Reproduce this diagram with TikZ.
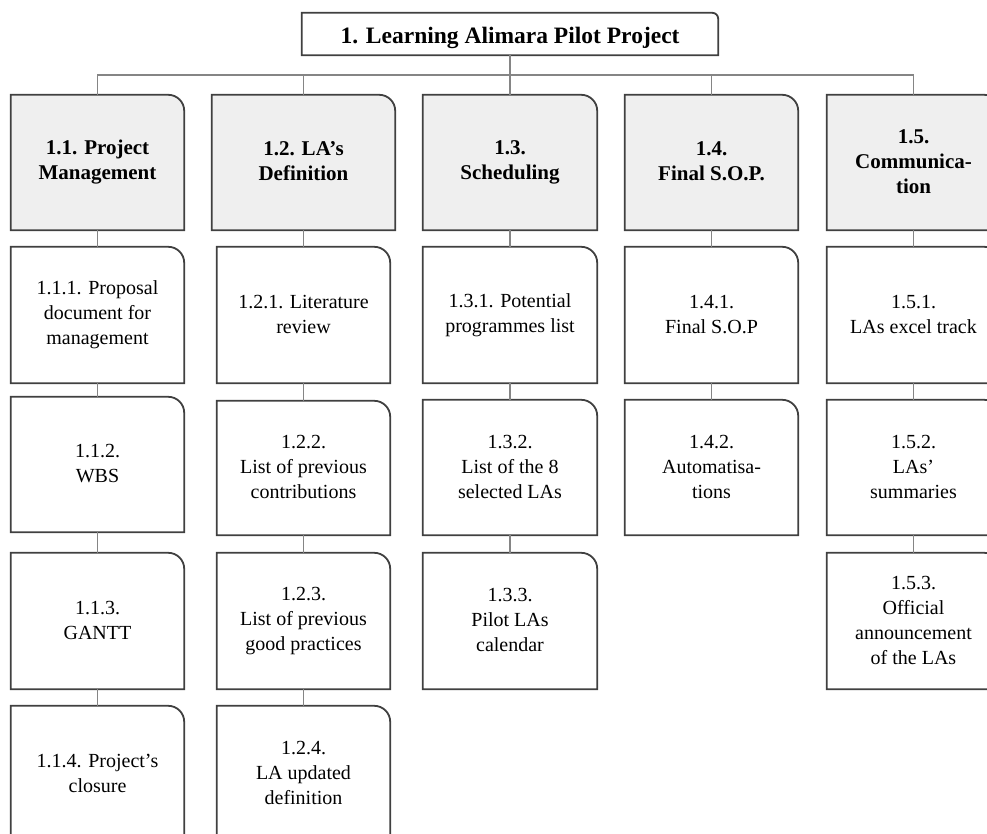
\documentclass[tikz,border=0pt]{standalone}
\usepackage{fontspec}
\setmainfont{Liberation Serif}
\usetikzlibrary{positioning,backgrounds}
\definecolor{edge}{HTML}{404040}
\definecolor{linkgray}{HTML}{858585}
\definecolor{headfill}{HTML}{EFEFEF}
\newcommand{\linestrut}{\rule[-2pt]{0pt}{27pt}}

\begin{document}
\begin{tikzpicture}[x=1pt,y=1pt,
  trbox/.style 2 args={inner sep=0pt,align=center,
    execute at begin node=\linestrut,execute at end node=\linestrut,
    append after command={\pgfextra{\begin{pgfonlayer}{background}
      \filldraw[fill=#1,draw=edge,line width=1.8pt] (\tikzlastnode.south west) -- (\tikzlastnode.north west)
        -- ([xshift=-#2]\tikzlastnode.north east) arc[start angle=90,end angle=0,radius=#2]
        -- (\tikzlastnode.south east) -- cycle;
      \end{pgfonlayer}}}},
  root/.style={trbox={white}{6pt},minimum width=416pt,minimum height=42pt,font=\fontsize{23.5}{28}\selectfont\bfseries},
  head/.style={trbox={headfill}{16pt},minimum width=173pt,minimum height=135pt,font=\fontsize{21}{25}\selectfont\bfseries},
  task/.style={trbox={white}{16pt},minimum width=173pt,minimum height=136pt,font=\fontsize{20}{25}\selectfont},
  link/.style={draw=linkgray,line width=1.5pt}]
\useasboundingbox (0,0) rectangle (987,-834);
% top of the breakdown
\node[root] (P) at (510,-34) {1. Learning Alimara Pilot Project};
% work packages
\node[head] (H1) at (97.5,-162.5) {1.1. Project\\Management};
\node[head,minimum width=183pt] (H2) at (303.5,-162.5) {1.2. LA's\\Definition};
\node[head,minimum width=174pt] (H3) at (510,-162.5) {1.3.\\Scheduling};
\node[head] (H4) at (711.5,-162.5) {1.4.\\Final S.O.P.};
\node[head] (H5) at (913.5,-162.5) {1.5.\\Communica-\\tion};
\foreach \h in {H1,H2,H3,H4,H5}
  \draw[link] (P.south) -- ++(0,-20) -| (\h.north);
% 1.1
\node[task] (T11) at (97.5,-315) {1.1.1. Proposal\\document for\\management};
\node[task,minimum height=135pt] (T12) at (97.5,-464.5) {1.1.2.\\WBS};
\node[task] (T13) at (97.5,-621) {1.1.3.\\GANTT};
\node[task] (T14) at (97.5,-774) {1.1.4. Project's\\closure};
% 1.2
\node[task] (T21) at (303.5,-315) {1.2.1. Literature\\review};
\node[task,minimum height=134pt] (T22) at (303.5,-468) {1.2.2.\\List of previous\\contributions};
\node[task] (T23) at (303.5,-621) {1.2.3.\\List of previous\\good practices};
\node[task] (T24) at (303.5,-774) {1.2.4.\\LA updated\\definition};
% 1.3
\node[task,minimum width=174pt] (T31) at (510,-315) {1.3.1. Potential\\programmes list};
\node[task,minimum width=174pt,minimum height=135pt] (T32) at (510,-467.5) {1.3.2.\\List of the 8\\selected LAs};
\node[task,minimum width=174pt] (T33) at (510,-621) {1.3.3.\\Pilot LAs\\calendar};
% 1.4
\node[task] (T41) at (711.5,-315) {1.4.1.\\Final S.O.P};
\node[task,minimum height=135pt] (T42) at (711.5,-467.5) {1.4.2.\\Automatisa-\\tions};
% 1.5
\node[task] (T51) at (913.5,-315) {1.5.1.\\LAs excel track};
\node[task,minimum height=135pt] (T52) at (913.5,-467.5) {1.5.2.\\LAs'\\summaries};
\node[task] (T53) at (913.5,-621) {1.5.3.\\Official\\announcement\\of the LAs};
% columns
\draw[link] (H1.south) -- (T11.north) (T11.south) -- (T12.north) (T12.south) -- (T13.north) (T13.south) -- (T14.north);
\draw[link] (H2.south) -- (T21.north) (T21.south) -- (T22.north) (T22.south) -- (T23.north) (T23.south) -- (T24.north);
\draw[link] (H3.south) -- (T31.north) (T31.south) -- (T32.north) (T32.south) -- (T33.north);
\draw[link] (H4.south) -- (T41.north) (T41.south) -- (T42.north);
\draw[link] (H5.south) -- (T51.north) (T51.south) -- (T52.north) (T52.south) -- (T53.north);
\end{tikzpicture}
\end{document}
